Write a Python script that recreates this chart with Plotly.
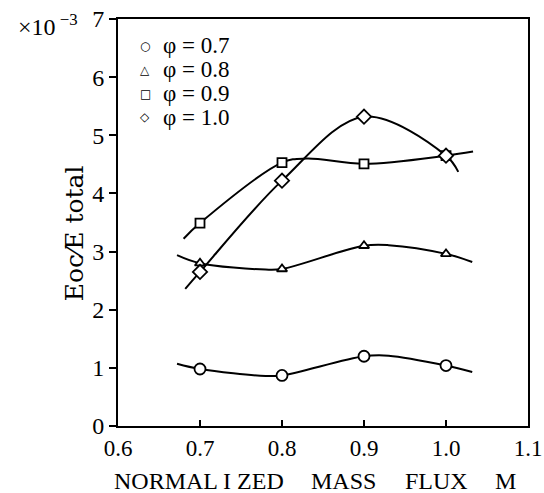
import plotly.graph_objects as go

# Measured points (normalized mass flux M, Eoc/Etotal x1e-3)
m_points = [0.7, 0.8, 0.9, 1.0]
phi07 = [0.98, 0.87, 1.20, 1.04]
phi08 = [2.80, 2.70, 3.10, 2.96]
phi09 = [3.49, 4.53, 4.51, 4.65]
phi10 = [2.65, 4.22, 5.32, 4.65]

# Fitted curves
c07_x = [0.672, 0.70, 0.78, 0.80, 0.90, 0.93, 1.00, 1.032]
c07_y = [1.07, 0.98, 0.86, 0.87, 1.20, 1.21, 1.04, 0.93]
c08_x = [0.672, 0.70, 0.78, 0.80, 0.90, 0.93, 1.00, 1.032]
c08_y = [2.94, 2.80, 2.69, 2.70, 3.10, 3.11, 2.96, 2.82]
c09_x = [0.680, 0.70, 0.80, 0.83, 0.90, 1.00, 1.033]
c09_y = [3.22, 3.49, 4.53, 4.60, 4.51, 4.65, 4.72]
c10_x = [0.682, 0.70, 0.80, 0.90, 1.00, 1.015]
c10_y = [2.36, 2.65, 4.22, 5.32, 4.65, 4.37]

labels = ["φ = 0.7", "φ = 0.8", "φ = 0.9", "φ = 1.0"]
legend_glyphs = ["○", "△", "□", "◇"]
symbols = ["circle", "triangle-up", "square", "diamond"]
sizes = [11, 9, 9, 11]
x_ticks = [0.6, 0.7, 0.8, 0.9, 1.0, 1.1]
x_ticktext = ["0.6", "0.7", "0.8", "0.9", "1.0", "1.1"]
y_ticks = [0, 1, 2, 3, 4, 5, 6, 7]
x_title_words = ["NORMAL I ZED", "MASS", "FLUX", "M"]

font_family = "Liberation Serif, DejaVu Serif, serif"

fig = go.Figure()
curves = [(c07_x, c07_y), (c08_x, c08_y), (c09_x, c09_y), (c10_x, c10_y)]
for cx, cy in curves:
    fig.add_trace(go.Scatter(x=cx, y=cy, mode="lines",
                             line=dict(color="black", width=2, shape="spline", smoothing=1.0),
                             showlegend=False, hoverinfo="skip"))

series = [phi07, phi08, phi09, phi10]
for ys, lab, sym, sz in zip(series, labels, symbols, sizes):
    fig.add_trace(go.Scatter(x=m_points, y=ys, mode="markers", name=lab,
                             marker=dict(symbol=sym, size=sz, color="white",
                                         line=dict(color="black", width=1.8)),
                             showlegend=False))

fig.update_layout(
    width=544, height=493,
    margin=dict(l=118, r=16, t=19, b=67, autoexpand=False),
    plot_bgcolor="white", paper_bgcolor="white",
    font=dict(family=font_family, size=22, color="black"),
    showlegend=False,
)
fig.update_xaxes(range=[0.6, 1.1], tickvals=x_ticks, ticktext=x_ticktext,
                 ticks="inside", ticklen=6, tickwidth=1.5, tickcolor="black",
                 showline=True, linecolor="black", linewidth=2, mirror=True,
                 showgrid=False, zeroline=False, automargin=False,
                 tickfont=dict(size=23))
fig.update_yaxes(range=[0, 7], tickvals=y_ticks,
                 ticks="outside", ticklen=7, tickwidth=1.5, tickcolor="black",
                 showline=True, linecolor="black", linewidth=2, mirror=True,
                 showgrid=False, zeroline=False, automargin=False,
                 tickfont=dict(size=24))

# x axis title, word by word (spaced like the original)
word_centers_px = [199, 343, 436, 505]
for w, cpx in zip(x_title_words, word_centers_px):
    fig.add_annotation(text=w, xref="paper", yref="paper",
                       x=(cpx - 118) / 410, y=-0.135, xanchor="center", yanchor="middle",
                       showarrow=False, font=dict(size=24, family=font_family))

# y axis title
fig.add_annotation(text="Eoc⁄E total", xref="paper", yref="paper",
                   x=-0.107, y=0.474, xanchor="center", yanchor="middle", textangle=-90,
                   showarrow=False, font=dict(size=25, family="DejaVu Serif, serif"))

fig.add_annotation(text="×10<sup> −3</sup>", xref="paper", yref="paper",
                   x=-0.248, y=0.985, xanchor="left", yanchor="middle", showarrow=False,
                   font=dict(size=24, family=font_family))

# legend drawn as text
legend_rows = [0.934, 0.875, 0.816, 0.759]
for g, lab, yy in zip(legend_glyphs, labels, legend_rows):
    fig.add_annotation(text=g, xref="paper", yref="paper", x=0.066, y=yy,
                       xanchor="center", yanchor="middle", showarrow=False,
                       font=dict(size=12, family="DejaVu Sans"))
    fig.add_annotation(text=lab, xref="paper", yref="paper", x=0.105, y=yy,
                       xanchor="left", yanchor="middle", showarrow=False,
                       font=dict(size=23, family=font_family))

fig.write_html("out.html")
